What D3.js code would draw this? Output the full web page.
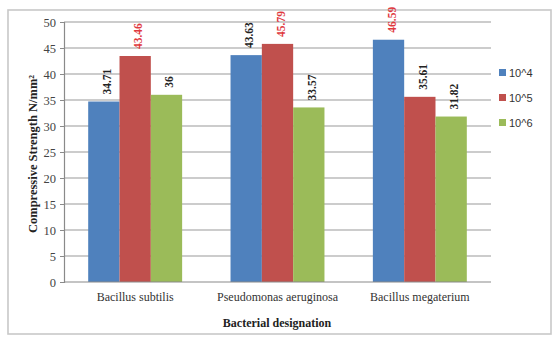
<!DOCTYPE html>
<html>
<head>
<meta charset="utf-8">
<script src="https://cdn.jsdelivr.net/npm/d3@7/dist/d3.min.js"></script>
<style>
  html, body { margin: 0; padding: 0; background: #fff; }
  svg { display: block; }
</style>
</head>
<body>
<svg id="chart" width="554" height="337"></svg>
<script>
// Compressive strength by bacterial species and cell concentration
const categories = ["Bacillus subtilis", "Pseudomonas aeruginosa", "Bacillus megaterium"];
const seriesNames = ["10^4", "10^5", "10^6"];
const conc1e4 = [34.71, 43.63, 46.59];
const conc1e5 = [43.46, 45.79, 35.61];
const conc1e6 = [36, 33.57, 31.82];
const labelText = [
  ["34.71", "43.63", "46.59"],
  ["43.46", "45.79", "35.61"],
  ["36", "33.57", "31.82"]
];
const yTicks = [0, 5, 10, 15, 20, 25, 30, 35, 40, 45, 50];

const seriesValues = [conc1e4, conc1e5, conc1e6];
const colors = ["#4F81BD", "#C0504D", "#9BBB59"];
// highest value in each group is printed in red
const maxPerGroup = categories.map((c, i) => Math.max(...seriesValues.map(s => s[i])));

const serif = "'Liberation Serif', 'Times New Roman', serif";
const sans = "'Liberation Sans', Arial, sans-serif";

const svg = d3.select("#chart");

// outer frame
svg.append("rect")
  .attr("x", 8).attr("y", 10).attr("width", 543).attr("height", 324)
  .attr("fill", "#fff").attr("stroke", "#c8c8c8").attr("stroke-width", 1.6);

const plot = { left: 64, right: 491, top: 22, bottom: 282 };

const x0 = d3.scaleBand().domain(categories).range([plot.left, plot.right]).paddingInner(0).paddingOuter(0);
const groupW = x0.bandwidth() * 0.66;
const x1 = d3.scaleBand().domain(d3.range(seriesNames.length)).range([0, groupW]).padding(0);
const y = d3.scaleLinear().domain([0, 50]).range([plot.bottom, plot.top]);

// gridlines
svg.append("g")
  .selectAll("line").data(yTicks.filter(t => t > 0)).join("line")
  .attr("x1", plot.left).attr("x2", plot.right)
  .attr("y1", d => y(d)).attr("y2", d => y(d))
  .attr("stroke", "#9a9a9a").attr("stroke-width", 1.2);

// y axis
const yAxis = d3.axisLeft(y).tickValues(yTicks).tickSize(4).tickPadding(4);
const gy = svg.append("g").attr("transform", `translate(${plot.left},0)`).call(yAxis);
gy.select(".domain").attr("stroke", "#8a8a8a").attr("stroke-width", 1.2);
gy.selectAll(".tick line").attr("stroke", "#8a8a8a");
gy.selectAll(".tick text")
  .attr("font-family", serif).attr("font-size", 12.5).attr("fill", "#444");

// bars
const groups = svg.append("g").selectAll("g").data(categories).join("g")
  .attr("transform", c => `translate(${x0(c) + (x0.bandwidth() - groupW) / 2},0)`);

groups.each(function (c, gi) {
  const g = d3.select(this);
  seriesValues.forEach((vals, si) => {
    const v = vals[gi];
    g.append("rect")
      .attr("x", x1(si)).attr("width", x1.bandwidth())
      .attr("y", y(v)).attr("height", y(0) - y(v))
      .attr("fill", colors[si]);
    const cx = x1(si) + x1.bandwidth() / 2;
    const isMax = v === maxPerGroup[gi];
    g.append("text")
      .attr("transform", `translate(${cx + 7},${y(v) - 7}) rotate(-90)`)
      .attr("font-family", serif).attr("font-weight", "bold")
      .attr("font-size", 11.5)
      .attr("fill", isMax ? "#E0393E" : "#222")
      .text(labelText[si][gi]);
  });
});

// x axis baseline
svg.append("line")
  .attr("x1", plot.left).attr("x2", plot.right)
  .attr("y1", plot.bottom).attr("y2", plot.bottom)
  .attr("stroke", "#8a8a8a").attr("stroke-width", 1.2);

// category labels
svg.append("g").selectAll("text").data(categories).join("text")
  .attr("x", c => x0(c) + x0.bandwidth() / 2)
  .attr("y", 301)
  .attr("text-anchor", "middle")
  .attr("font-family", serif).attr("font-size", 12).attr("fill", "#333")
  .text(c => c);

// axis titles
svg.append("text")
  .attr("x", 277).attr("y", 327)
  .attr("text-anchor", "middle")
  .attr("font-family", serif).attr("font-weight", "bold").attr("font-size", 12).attr("fill", "#222")
  .text("Bacterial designation");

svg.append("text")
  .attr("transform", `translate(37,154) rotate(-90)`)
  .attr("text-anchor", "middle")
  .attr("font-family", serif).attr("font-weight", "bold").attr("font-size", 12.5).attr("fill", "#222")
  .text("Compressive Strength N/mm²");

// legend
const legend = svg.append("g").selectAll("g").data(seriesNames).join("g")
  .attr("transform", (d, i) => `translate(499,${69 + i * 25})`);
legend.append("rect").attr("width", 7).attr("height", 7).attr("fill", (d, i) => colors[i]);
legend.append("text")
  .attr("x", 10).attr("y", 7.5)
  .attr("font-family", sans).attr("font-size", 11).attr("fill", "#333")
  .text(d => d);
</script>
</body>
</html>
